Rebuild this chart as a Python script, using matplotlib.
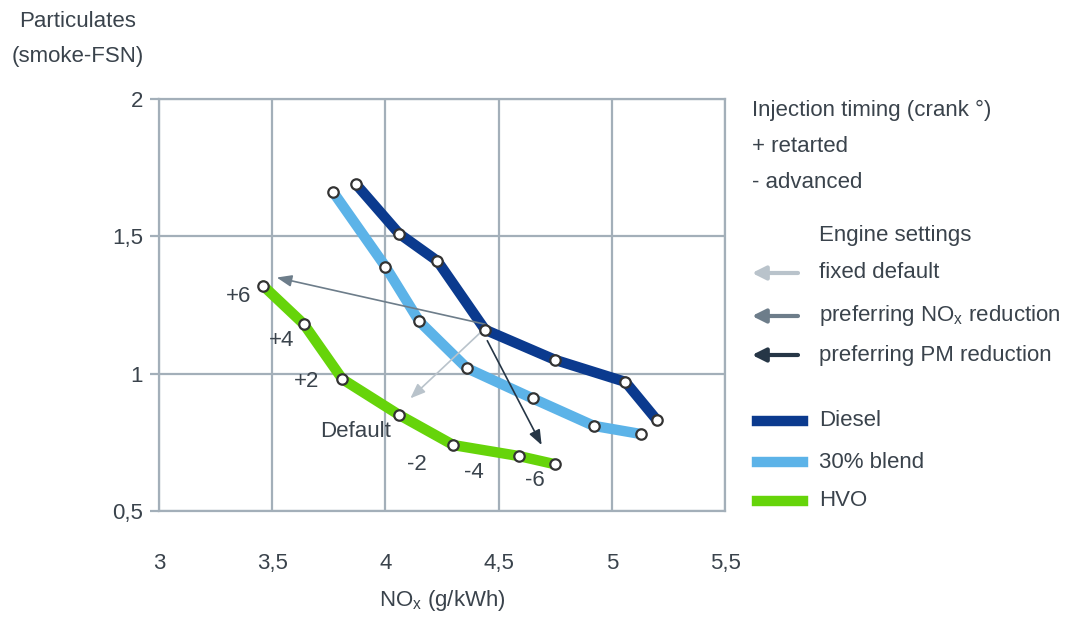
import matplotlib.pyplot as plt
from matplotlib.lines import Line2D

plt.rcParams['font.family'] = ['Liberation Sans', 'DejaVu Sans']

# NOx (g/kWh) vs particulates (smoke-FSN)
diesel_x = [3.87, 4.06, 4.23, 4.44, 4.75, 5.06, 5.20]
diesel_y = [1.69, 1.51, 1.41, 1.16, 1.05, 0.97, 0.83]
blend_x = [3.77, 4.00, 4.15, 4.36, 4.65, 4.92, 5.13]
blend_y = [1.66, 1.39, 1.19, 1.02, 0.91, 0.81, 0.78]
hvo_x = [3.46, 3.64, 3.81, 4.06, 4.30, 4.59, 4.75]
hvo_y = [1.32, 1.18, 0.98, 0.85, 0.74, 0.70, 0.67]

timing_labels = ['+6', '+4', '+2', 'Default', '-2', '-4', '-6']
timing_x = [3.35, 3.54, 3.65, 3.87, 4.14, 4.39, 4.66]
timing_y = [1.28, 1.12, 0.97, 0.79, 0.67, 0.64, 0.61]

# arrows: (start, end)
arrow_fixed = ((4.42, 1.15), (4.11, 0.91))
arrow_nox = ((4.44, 1.18), (3.52, 1.35))
arrow_pm = ((4.45, 1.12), (4.69, 0.74))

xticks = [3, 3.5, 4, 4.5, 5, 5.5]
yticks = [0.5, 1, 1.5, 2]

txt = '#3a434c'
grid_c = '#a3afb9'
c_diesel = '#0b3a8e'
c_blend = '#5cb3e8'
c_hvo = '#66d40a'
c_fixed = '#b9c3cb'
c_nox = '#6d7d8a'
c_pm = '#263646'
fs = 16

fig = plt.figure(figsize=(10.73, 6.23), dpi=100)
ax = fig.add_axes([0.1482, 0.1798, 0.5275, 0.6613])
ax.set_xlim(3, 5.5)
ax.set_ylim(0.5, 2)
ax.set_xticks(xticks)
ax.set_yticks(yticks)
ax.set_xticklabels([str(t).replace('.', ',') for t in xticks])
ax.set_yticklabels(['0,5', '1', '1,5', '2'])
ax.grid(True, color=grid_c, lw=1.6)
ax.set_axisbelow(True)
for s in ax.spines.values():
    s.set_color(grid_c)
    s.set_linewidth(1.6)
ax.tick_params(axis='y', length=6.5, width=1.6, color=grid_c, pad=5, labelsize=fs, labelcolor=txt)
ax.tick_params(axis='x', length=0, pad=30, labelsize=fs, labelcolor=txt)

for xs, ys, c in [(diesel_x, diesel_y, c_diesel), (blend_x, blend_y, c_blend), (hvo_x, hvo_y, c_hvo)]:
    ax.plot(xs, ys, color=c, lw=7.5, solid_joinstyle='round', solid_capstyle='round', zorder=3)
    ax.plot(xs, ys, ls='none', marker='o', ms=7.5, mfc='white', mec='#333333', mew=1.6, zorder=5)

for (s, e), c in [(arrow_fixed, c_fixed), (arrow_nox, c_nox), (arrow_pm, c_pm)]:
    ax.annotate('', xy=e, xytext=s,
                arrowprops=dict(arrowstyle='-|>,head_length=0.9,head_width=0.35', color=c, lw=1.2,
                                shrinkA=0, shrinkB=0), zorder=4)

for lab, x, y in zip(timing_labels, timing_x, timing_y):
    ax.text(x, y, lab, fontsize=fs, color=txt, ha='center', va='center')

ax.set_xlabel('NO$_\\mathregular{x}$ (g/kWh)', fontsize=fs, color=txt, labelpad=10)
fig.text(0.072, 0.965, 'Particulates', fontsize=fs, color=txt, ha='center', va='center')
fig.text(0.072, 0.910, '(smoke-FSN)', fontsize=fs, color=txt, ha='center', va='center')

# right-hand notes and legend
fx = 752 / 1073
def fy(py):
    return 1 - py / 623

fig.text(fx, fy(110), 'Injection timing (crank °)', fontsize=fs, color=txt, va='center')
fig.text(fx, fy(147), '+ retarted', fontsize=fs, color=txt, va='center')
fig.text(fx, fy(182), '- advanced', fontsize=fs, color=txt, va='center')
tx = 819 / 1073
fig.text(tx, fy(235), 'Engine settings', fontsize=fs, color=txt, va='center')
for py, lab, c in [(273, 'fixed default', c_fixed), (316, 'preferring NO$_\\mathregular{x}$ reduction', c_nox),
                   (355, 'preferring PM reduction', c_pm)]:
    fig.add_artist(plt.Annotation('', xy=(752 / 1073, fy(py)), xytext=(798 / 1073, fy(py)),
                                  xycoords='figure fraction', textcoords='figure fraction',
                                  arrowprops=dict(arrowstyle='-|>,head_length=0.8,head_width=0.4',
                                                  color=c, lw=3, shrinkA=0, shrinkB=0)))
    fig.text(tx, fy(py), lab, fontsize=fs, color=txt, va='center')

for py, lab, c in [(421, 'Diesel', c_diesel), (462, '30% blend', c_blend), (501, 'HVO', c_hvo)]:
    fig.add_artist(Line2D([757 / 1073, 803 / 1073], [fy(py), fy(py)], color=c, lw=7.5,
                          transform=fig.transFigure))
    fig.text(tx, fy(py), lab, fontsize=fs, color=txt, va='center')

fig.savefig('out.png', dpi=100)
